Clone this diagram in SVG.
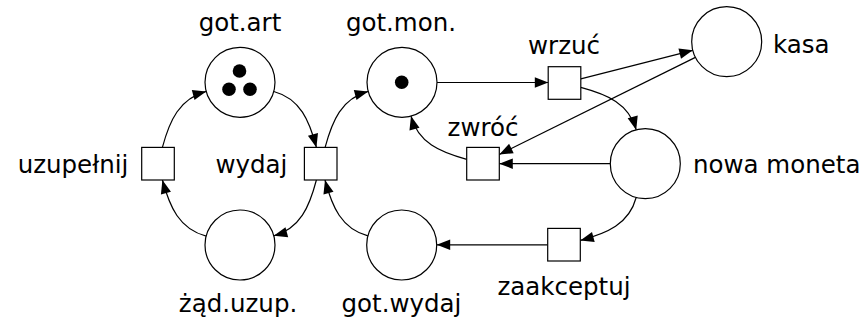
<svg xmlns="http://www.w3.org/2000/svg" width="865" height="323" viewBox="0 0 865 323">
  <defs>
    <marker id="arrow" markerUnits="userSpaceOnUse" markerWidth="16" markerHeight="12" viewBox="-14 -6 16 12" refX="0" refY="0" orient="auto" overflow="visible">
      <path d="M0,0 L-13.5,-5.2 L-13.5,5.2 Z" fill="#000"/>
    </marker>
    <style>
      .place { fill: #fff; stroke: #000; stroke-width: 1.2; }
      .trans { fill: #fff; stroke: #000; stroke-width: 1.2; }
      .token { fill: #000; }
      .arc { fill: none; stroke: #000; stroke-width: 1.2; marker-end: url(#arrow); }
      text { font-family: "DejaVu Sans", sans-serif; font-size: 24.5px; fill: #000; }
      .mid { text-anchor: middle; }
      .end { text-anchor: end; }
    </style>
  </defs>

  <!-- arcs of the net -->
  <g id="connectors">
    <path class="arc" d="M162.4,147.4 C169.6,120.5 179.4,98.6 206.2,91.4"/>
    <path class="arc" d="M273.8,91.5 C300.3,98.7 309.4,120.8 316.4,147.4"/>
    <path class="arc" d="M316.4,180 C309.4,206.6 300.3,228.6 273.8,235.8"/>
    <path class="arc" d="M206.2,236.1 C179.2,229 169.7,206.9 162.4,180"/>
    <path class="arc" d="M325.1,147.4 C332.3,120.6 341.4,98.6 368.2,91.4"/>
    <path class="arc" d="M367.9,235.9 C341.3,228.7 332.1,206.7 325,180"/>
    <path class="arc" d="M437,82.5 L548.3,82.5"/>
    <path class="arc" d="M580.8,78.9 L692.8,50.3"/>
    <path class="arc" d="M695.4,57.4 L499.3,154.5"/>
    <path class="arc" d="M610.3,163.7 L499.3,163.7"/>
    <path class="arc" d="M580.8,87.4 C607.2,94.5 629.1,103.5 636.2,129.9"/>
    <path class="arc" d="M636.2,197.5 C629,224.1 607,233.3 580.3,240.4"/>
    <path class="arc" d="M547.7,244.8 L436.7,244.8"/>
    <path class="arc" d="M466.7,159.3 C440.1,152.1 418.1,142.8 411,116.1"/>
  </g>

  <!-- places -->
  <g id="got-art">
    <circle class="place" cx="240" cy="82.3" r="35"/>
    <circle class="token" cx="239.5" cy="71" r="6.8"/>
    <circle class="token" cx="229" cy="89.3" r="6.8"/>
    <circle class="token" cx="250" cy="89.3" r="6.8"/>
    <text class="mid" x="240" y="31">got.art</text>
  </g>
  <g id="got-mon">
    <circle class="place" cx="402" cy="82.3" r="35"/>
    <circle class="token" cx="401.7" cy="82.3" r="6.8"/>
    <text class="mid" x="401" y="31">got.mon.</text>
  </g>
  <g id="kasa">
    <circle class="place" cx="726.7" cy="41.7" r="35"/>
    <text x="773" y="52.5">kasa</text>
  </g>
  <g id="nowa-moneta">
    <circle class="place" cx="645.3" cy="163.7" r="35"/>
    <text x="693" y="172.5">nowa moneta</text>
  </g>
  <g id="zad-uzup">
    <circle class="place" cx="240" cy="245" r="35"/>
    <text class="mid" x="238" y="312">żąd.uzup.</text>
  </g>
  <g id="got-wydaj">
    <circle class="place" cx="401.7" cy="245" r="35"/>
    <text class="mid" x="401.5" y="312">got.wydaj</text>
  </g>

  <!-- transitions -->
  <g id="uzupelnij">
    <rect class="trans" x="141.7" y="147.4" width="32.6" height="32.6"/>
    <text class="end" x="128.3" y="173">uzupełnij</text>
  </g>
  <g id="wydaj">
    <rect class="trans" x="304.4" y="147.4" width="32.6" height="32.6"/>
    <text class="end" x="287.3" y="173">wydaj</text>
  </g>
  <g id="wrzuc">
    <rect class="trans" x="548.2" y="66.7" width="32.6" height="32.6"/>
    <text class="mid" x="564" y="54">wrzuć</text>
  </g>
  <g id="zwroc">
    <rect class="trans" x="466.7" y="147.4" width="32.6" height="32.6"/>
    <text class="mid" x="483" y="136">zwróć</text>
  </g>
  <g id="zaakceptuj">
    <rect class="trans" x="547.7" y="228.4" width="32.6" height="32.6"/>
    <text class="mid" x="564" y="295">zaakceptuj</text>
  </g>
</svg>
